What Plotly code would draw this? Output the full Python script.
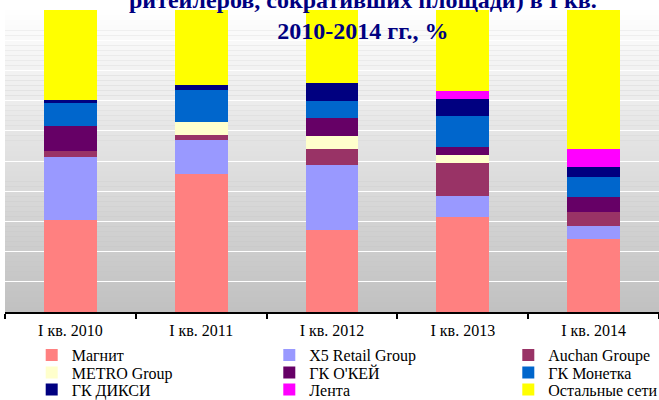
import plotly.graph_objects as go

categories = ["I кв. 2010", "I кв. 2011", "I кв. 2012", "I кв. 2013", "I кв. 2014"]

magnit = [30.5, 45.8, 27.3, 31.3, 24.3]
x5 = [20.9, 11.2, 21.4, 7.2, 4.3]
auchan = [2.0, 1.7, 5.3, 10.9, 4.6]
metro = [0.0, 4.3, 4.3, 2.7, 0.0]
okey = [8.3, 0.0, 6.0, 2.6, 5.0]
monetka = [7.6, 10.6, 5.6, 10.3, 6.6]
dixy = [1.0, 1.6, 6.0, 5.6, 3.3]
lenta = [0.0, 0.0, 0.0, 2.6, 5.9]
others = [29.7, 24.8, 24.1, 26.8, 46.0]

series_names = ["Магнит", "X5 Retail Group", "Auchan Groupe", "METRO Group", "ГК О'КЕЙ",
                "ГК Монетка", "ГК ДИКСИ", "Лента", "Остальные сети"]
series_values = [magnit, x5, auchan, metro, okey, monetka, dixy, lenta, others]
colors = ["#FF8080", "#9999FF", "#993366", "#FFFFCC", "#660066",
          "#0066CC", "#000080", "#FF00FF", "#FFFF00"]

W, H = 659, 400
ML, MR, MT, MB = 5, 0, 10, 88
PW = W - ML - MR
PH = H - MT - MB

# legend layout: (column text-left px, row center px)
col_text_x = [71.7, 309.3, 548.3]
row_y = [355, 372.7, 389.5]
legend_pos = [(0, 0), (1, 0), (2, 0), (0, 1), (1, 1), (2, 1), (0, 2), (1, 2), (2, 2)]

fig = go.Figure()
legend_layouts = {}
for i, (name, vals, col) in enumerate(zip(series_names, series_values, colors)):
    lname = "legend" if i == 0 else f"legend{i+1}"
    fig.add_trace(go.Bar(x=categories, y=vals, name=name, marker_color=col,
                         marker_line_width=0, legend=lname))
    c, r = legend_pos[i]
    px = col_text_x[c] - 40
    py = row_y[r]
    legend_layouts[lname] = dict(
        x=(px - ML) / PW, y=(H - MB - py) / PH, xanchor="left", yanchor="middle",
        orientation="v", bgcolor="rgba(0,0,0,0)", borderwidth=0,
        font=dict(family="Liberation Serif", size=16, color="black"),
        traceorder="normal",
    )

# gradient background strips
shapes = []
n = 60
for k in range(n):
    t = (k + 0.5) / n
    v = int(round(192 + (255 - 192) * t))
    shapes.append(dict(type="rect", xref="paper", yref="paper", x0=0, x1=1,
                       y0=k / n, y1=(k + 1) / n, fillcolor=f"rgb({v},{v},{v})",
                       line_width=0, layer="below"))

fig.update_layout(
    width=W, height=H,
    margin=dict(l=ML, r=MR, t=MT, b=MB, autoexpand=False),
    barmode="stack", bargap=0.595,
    paper_bgcolor="white", plot_bgcolor="#c0c0c0",
    showlegend=True,
    shapes=shapes,
    xaxis=dict(type="category", showgrid=False, showline=True, linecolor="black",
               linewidth=2, ticks="outside", tickson="boundaries", ticklen=5,
               tickwidth=2, tickcolor="black", ticklabelstandoff=3,
               tickfont=dict(family="Liberation Serif", size=16, color="black")),
    yaxis=dict(range=[0, 100], dtick=10, showgrid=True, gridcolor="white",
               gridwidth=1, showticklabels=False, zeroline=False, showline=False,
               ticks=""),
    annotations=[dict(
        text="ритейлеров, сокративших площади) в I кв.<br>2010-2014 гг., %",
        xref="paper", yref="paper", x=(363 - ML) / PW, y=(H - MB - 46) / PH,
        xanchor="center", yanchor="bottom", showarrow=False, align="center",
        font=dict(family="Liberation Serif", size=24, color="#000080", weight="bold"),
    )],
    **legend_layouts,
)

fig.write_html("out.html", config={"displayModeBar": False},
               post_script="document.body.style.margin='0';document.body.style.overflow='hidden';")
